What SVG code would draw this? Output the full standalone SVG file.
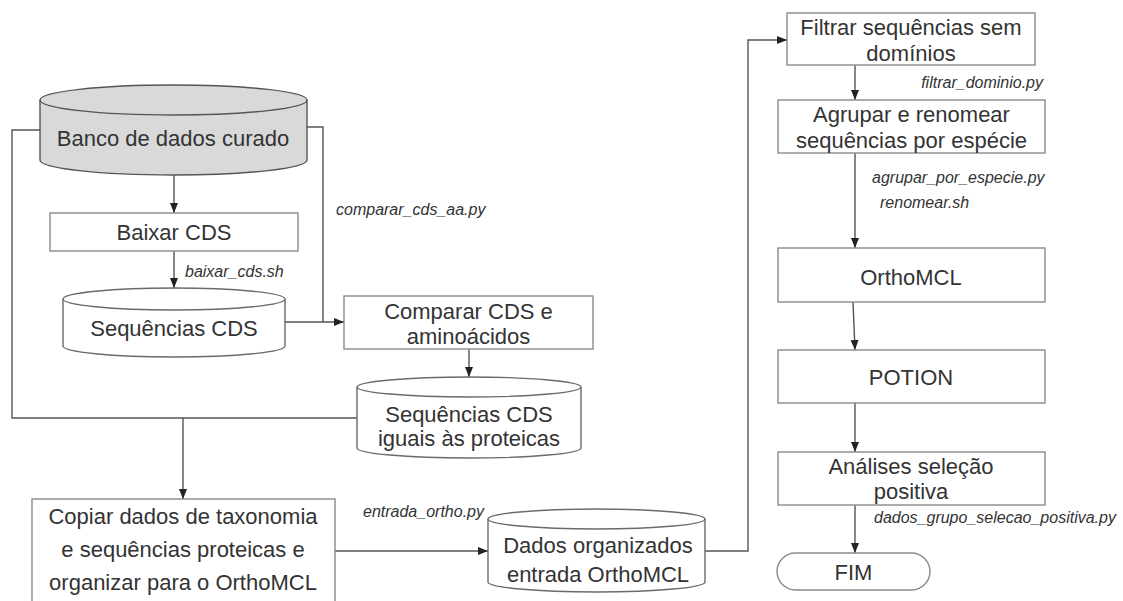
<svg xmlns="http://www.w3.org/2000/svg" width="1123" height="601" viewBox="0 0 1123 601">
<style>
.box{fill:#fff;stroke:#8a8a8a;stroke-width:1.4}
.cyl{fill:#fff;stroke:#6a6a6a;stroke-width:1.4}
.t{font-family:"Liberation Sans",Arial,sans-serif;font-size:22px;fill:#333;text-anchor:middle}
.lbl{font-family:"Liberation Sans",Arial,sans-serif;font-size:16px;font-style:italic;fill:#333}
.c{fill:none;stroke:#555;stroke-width:1.4}
</style>
<defs>
<marker id="ah" markerUnits="userSpaceOnUse" markerWidth="10" markerHeight="10" viewBox="0 0 10 10" refX="10" refY="5" orient="auto">
<path d="M0,1 L10,5 L0,9 Z" fill="#222"/>
</marker>
</defs>
<rect width="1123" height="601" fill="#fff"/>
<g id="connectors">
<path class="c" d="M174,175 V213" marker-end="url(#ah)"/>
<path class="c" d="M174,251 V288" marker-end="url(#ah)"/>
<path class="c" d="M307,127 H323 V322"/>
<path class="c" d="M285,322 H344" marker-end="url(#ah)"/>
<path class="c" d="M469,349 V377" stroke="#777" marker-end="url(#ah)"/>
<path class="c" d="M40,130 H12 V418 H357"/>
<path class="c" d="M183,418 V499" marker-end="url(#ah)"/>
<path class="c" d="M335,551 H488" marker-end="url(#ah)"/>
<path class="c" d="M705,551 H748 V40 H787" marker-end="url(#ah)"/>
<path class="c" d="M855,65 V100" marker-end="url(#ah)"/>
<path class="c" d="M855,153 V248" marker-end="url(#ah)"/>
<path class="c" d="M853,302 L855,350" marker-end="url(#ah)"/>
<path class="c" d="M855,403 V452" marker-end="url(#ah)"/>
<path class="c" d="M855,505 V553" marker-end="url(#ah)"/>
</g>
<g id="labels">
<text class="lbl" x="336" y="215">comparar_cds_aa.py</text>
<text class="lbl" x="185" y="277">baixar_cds.sh</text>
<text class="lbl" x="363" y="517">entrada_ortho.py</text>
<text class="lbl" x="1043" y="88" text-anchor="end">filtrar_dominio.py</text>
<text class="lbl" x="872" y="183">agrupar_por_especie.py</text>
<text class="lbl" x="880" y="208">renomear.sh</text>
<text class="lbl" x="874" y="523">dados_grupo_selecao_positiva.py</text>
</g>
<g id="banco">
<path d="M40,100 A133.5,15 0 0 1 307,100 V160 A133.5,15 0 0 1 40,160 Z" fill="#d9d9d9" stroke="#555" stroke-width="1.4"/>
<path d="M40,100 A133.5,15 0 0 0 307,100" fill="none" stroke="#555" stroke-width="1.4"/>
<text class="t" x="173" y="146">Banco de dados curado</text>
</g>
<g id="baixar">
<rect class="box" x="50" y="213" width="248" height="38"/>
<text class="t" x="174" y="240">Baixar CDS</text>
</g>
<g id="seqcds">
<path class="cyl" d="M63,299 A111,11 0 0 1 285,299 V346 A111,11 0 0 1 63,346 Z"/>
<path class="cyl" d="M63,299 A111,11 0 0 0 285,299" fill="none"/>
<text class="t" x="174" y="336">Sequências CDS</text>
</g>
<g id="comparar">
<rect class="box" x="344" y="296" width="249" height="53"/>
<text class="t" x="468.5" y="319">Comparar CDS e</text>
<text class="t" x="468.5" y="344">aminoácidos</text>
</g>
<g id="seqiguais">
<path class="cyl" d="M357,387 A112,10 0 0 1 581,387 V448 A112,10 0 0 1 357,448 Z"/>
<path class="cyl" d="M357,387 A112,10 0 0 0 581,387" fill="none"/>
<text class="t" x="469" y="422">Sequências CDS</text>
<text class="t" x="469" y="446">iguais às proteicas</text>
</g>
<g id="copiar">
<rect class="box" x="32" y="499" width="303" height="104"/>
<text class="t" x="183" y="524">Copiar dados de taxonomia</text>
<text class="t" x="183" y="557">e sequências proteicas e</text>
<text class="t" x="183" y="590">organizar para o OrthoMCL</text>
</g>
<g id="dados">
<path class="cyl" d="M488,519 A108.5,10 0 0 1 705,519 V582 A108.5,10 0 0 1 488,582 Z"/>
<path class="cyl" d="M488,519 A108.5,10 0 0 0 705,519" fill="none"/>
<text class="t" x="598" y="553">Dados organizados</text>
<text class="t" x="598" y="582">entrada OrthoMCL</text>
</g>
<g id="filtrar">
<rect class="box" x="787" y="13" width="248" height="52"/>
<text class="t" x="911" y="35">Filtrar sequências sem</text>
<text class="t" x="911" y="61">domínios</text>
</g>
<g id="agrupar">
<rect class="box" x="778" y="100" width="267" height="53"/>
<text class="t" x="911.5" y="122">Agrupar e renomear</text>
<text class="t" x="911.5" y="148">sequências por espécie</text>
</g>
<g id="orthomcl">
<rect class="box" x="778" y="248" width="267" height="54"/>
<text class="t" x="911" y="285">OrthoMCL</text>
</g>
<g id="potion">
<rect class="box" x="778" y="350" width="267" height="53"/>
<text class="t" x="911" y="385">POTION</text>
</g>
<g id="analises">
<rect class="box" x="778" y="452" width="267" height="53"/>
<text class="t" x="911" y="474">Análises seleção</text>
<text class="t" x="911" y="499">positiva</text>
</g>
<g id="fim">
<rect class="box" x="777" y="553" width="153" height="37" rx="18.5" ry="18.5"/>
<text class="t" x="853.5" y="580">FIM</text>
</g>
</svg>
